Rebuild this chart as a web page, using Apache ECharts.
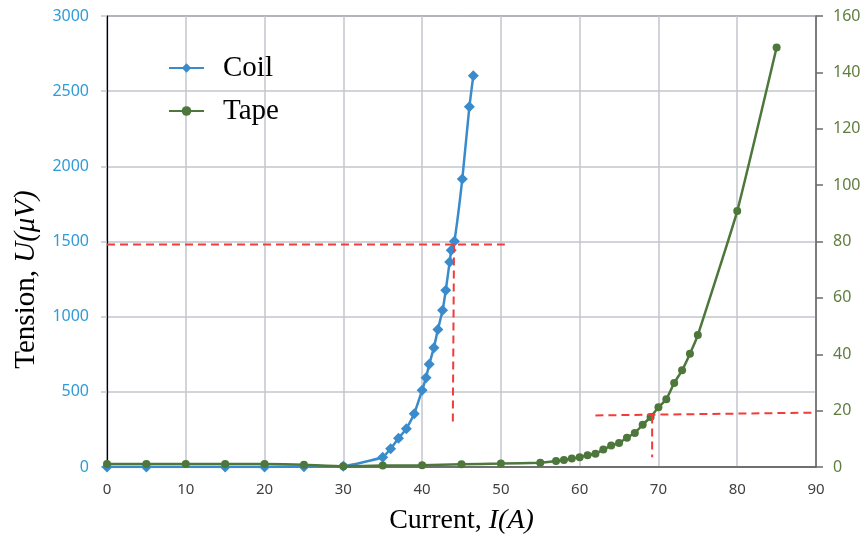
<!DOCTYPE html>
<html>
<head>
<meta charset="utf-8">
<script src="https://cdn.jsdelivr.net/npm/echarts@6/dist/echarts.min.js"></script>
<style>html,body{margin:0;padding:0;background:#fff}#c{width:863px;height:537px}</style>
</head>
<body>
<div id="c"></div>
<script>
// Current I(A) vs Tension U(µV)
const coilData = [[0,0],[5,0],[15,0],[20,0],[25,2],[30,5],[35,65],[36,121],[37,192],[38,254],[39,354],[40,510],[40.5,594],[40.9,683],[41.5,794],[42,914],[42.6,1042],[43,1175],[43.5,1364],[43.7,1442],[44.1,1502],[45.1,1915],[46,2397],[46.5,2603]];
const tapeData = [[0,1.1],[5,1.1],[10,1.1],[15,1.1],[20,1.1],[25,0.8],[30,0.3],[35,0.5],[40,0.6],[45,1.0],[50,1.2],[55,1.5],[57,2.1],[58,2.5],[59,3.0],[60,3.5],[61,4.2],[62,4.7],[63,6.2],[64,7.6],[65,8.5],[66,10.4],[67,12.1],[68,15.0],[69,17.7],[70,21.2],[71,24.0],[72,29.8],[73,34.3],[74,40.2],[75,46.8],[80,90.8],[85,148.8]];
// red dashed guide lines (data coordinates)
const guideCoilH = [[0,1480],[50.5,1480]];
const guideCoilV = [[44.05,1480],[43.9,300]];
const guideTapeH = [[62,18.3],[90,19.3]];
const guideTapeV = [[69.2,18.3],[69.2,3.5]];
const xTicks = {min:0,max:90,interval:10};
const yLeftTicks = {min:0,max:3000,interval:500};
const yRightTicks = {min:0,max:160,interval:20};

const serif = 'Liberation Serif';
const sans = 'Noto Sans';
const chart = echarts.init(document.getElementById('c'), null, {renderer:'canvas'});
const dash = {color:'#f23b3b', width:2, type:[8,5]};
chart.setOption({
  animation:false,
  grid:{left:107,right:47,top:16,bottom:70,outerBoundsMode:'none',containLabel:false,show:true,borderColor:'#000',borderWidth:1,backgroundColor:'transparent'},
  legend:{
    orient:'vertical', left:163, top:48, itemWidth:35, itemHeight:12, itemGap:13,
    data:['Coil','Tape'],
    textStyle:{fontFamily:serif,fontSize:29,color:'#000',lineHeight:30,padding:[0,0,0,14]}
  },
  xAxis:{
    type:'value', min:xTicks.min, max:xTicks.max, interval:xTicks.interval,
    name:'{a|Current, }{b|I(A)}', nameLocation:'middle', nameGap:40,
    nameTextStyle:{rich:{a:{fontFamily:serif,fontSize:28,color:'#000'},b:{fontFamily:serif,fontSize:28,fontStyle:'italic',color:'#000'}}},
    axisLine:{show:true,lineStyle:{color:'#595959',width:1.5}},
    axisTick:{show:false},
    axisLabel:{fontFamily:sans,fontSize:15,color:'#404040',margin:15},
    splitLine:{show:true,lineStyle:{color:'#c3c6cc',width:1.5}}
  },
  yAxis:[{
    type:'value', position:'left', min:yLeftTicks.min, max:yLeftTicks.max, interval:yLeftTicks.interval,
    name:'{a|Tension, }{b|U(μV)}', nameLocation:'middle', nameGap:66, nameRotate:90,
    nameTextStyle:{padding:[0,76,0,0],rich:{a:{fontFamily:serif,fontSize:29,color:'#000'},b:{fontFamily:serif,fontSize:29,fontStyle:'italic',color:'#000'}}},
    axisLine:{show:true,lineStyle:{color:'#000',width:1.2}},
    axisTick:{show:true,length:6,lineStyle:{color:'#c3c6cc',width:1.5}},
    axisLabel:{fontFamily:sans,fontSize:16,color:'#2f9bd8',margin:18,formatter:v=>String(v)},
    splitLine:{show:true,lineStyle:{color:'#c3c6cc',width:1.5}}
  },{
    type:'value', position:'right', min:yRightTicks.min, max:yRightTicks.max, interval:yRightTicks.interval,
    axisLine:{show:true,lineStyle:{color:'#6b6b6b',width:1.5}},
    axisTick:{show:true,length:7,lineStyle:{color:'#6b6b6b',width:1.5}},
    axisLabel:{fontFamily:sans,fontSize:16,color:'#5f7d3e',margin:17,formatter:v=>String(v)},
    splitLine:{show:false}
  }],
  series:[
    {name:'Coil',type:'line',yAxisIndex:0,data:coilData,smooth:0.12,
     symbol:'diamond',symbolSize:11,itemStyle:{color:'#3a8bcc'},lineStyle:{color:'#3a8bcc',width:2.5},z:3},
    {name:'Tape',type:'line',yAxisIndex:1,data:tapeData,smooth:0.12,
     symbol:'circle',symbolSize:8,itemStyle:{color:'#4d773b'},lineStyle:{color:'#4d773b',width:2.5},z:4},
    {name:'g1',type:'line',yAxisIndex:0,data:guideCoilH,symbol:'none',lineStyle:dash,z:5,silent:true},
    {name:'g2',type:'line',yAxisIndex:0,data:guideCoilV,symbol:'none',lineStyle:dash,z:5,silent:true},
    {name:'g3',type:'line',yAxisIndex:1,data:guideTapeH,symbol:'none',lineStyle:dash,z:5,silent:true},
    {name:'g4',type:'line',yAxisIndex:1,data:guideTapeV,symbol:'none',lineStyle:dash,z:5,silent:true}
  ]
});
</script>
</body>
</html>
